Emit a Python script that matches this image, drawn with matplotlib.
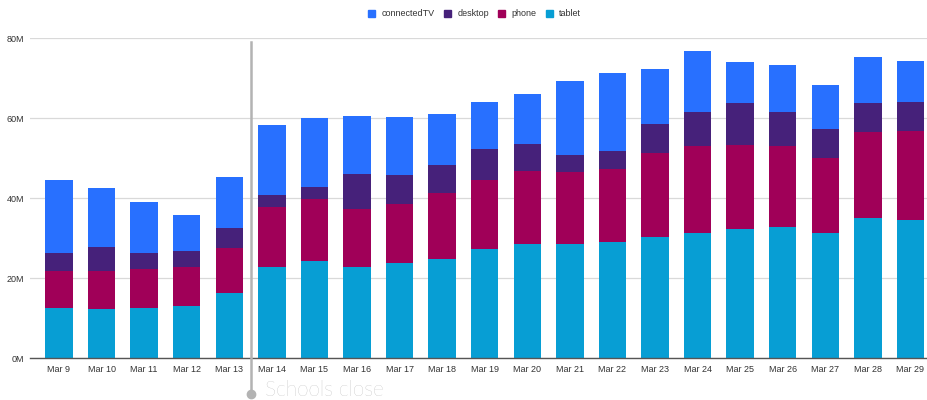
import numpy as np
import matplotlib.pyplot as plt
from matplotlib.patches import Patch

# dati (milioni)
days = ["Mar 9", "Mar 10", "Mar 11", "Mar 12", "Mar 13", "Mar 14", "Mar 15",
        "Mar 16", "Mar 17", "Mar 18", "Mar 19", "Mar 20", "Mar 21", "Mar 22",
        "Mar 23", "Mar 24", "Mar 25", "Mar 26", "Mar 27", "Mar 28", "Mar 29"]
tablet = [12.6, 12.3, 12.6, 13.0, 16.25, 22.8, 24.3, 22.9, 23.8, 24.9, 27.25,
          28.5, 28.5, 29.0, 30.25, 31.4, 32.3, 32.9, 31.4, 35.0, 34.6]
phone = [9.3, 9.6, 9.8, 9.8, 11.45, 14.95, 15.45, 14.4, 14.7, 16.35, 17.45,
         18.3, 18.1, 18.4, 21.0, 21.8, 21.0, 20.3, 18.7, 21.7, 22.3]
desktop = [4.4, 6.0, 3.9, 3.95, 4.9, 3.05, 3.15, 8.8, 7.3, 7.15, 7.7,
           6.7, 4.2, 4.35, 7.25, 8.4, 10.5, 8.4, 7.2, 7.1, 7.3]
connectedTV = [18.3, 14.8, 12.9, 9.05, 12.7, 17.45, 17.3, 14.4, 14.5, 12.6, 11.8,
               12.7, 18.5, 19.65, 13.9, 15.15, 10.4, 11.65, 11.1, 11.5, 10.1]
yticks = [0, 20, 40, 60, 80]

series = [("tablet", tablet, "#079ed4"),
          ("phone", phone, "#a00058"),
          ("desktop", desktop, "#46217a"),
          ("connectedTV", connectedTV, "#2870ff")]

plt.rcParams['font.family'] = ['Liberation Sans', 'DejaVu Sans']

fig = plt.figure(figsize=(9.27, 4), dpi=100)
ax = fig.add_axes([0.0324, 0.104, 0.9676, 0.8])

x = np.arange(len(days))
bottom = np.zeros(len(days))
for name, vals, col in series:
    ax.bar(x, vals, bottom=bottom, width=0.645, color=col, zorder=2)
    bottom += np.array(vals)

ax.set_xlim(-0.68, 20.39)
ax.set_ylim(0, 80)
ax.set_yticks(yticks)
ax.set_yticklabels([f"{v}M" for v in yticks])
ax.set_xticks(x)
ax.set_xticklabels(days)
ax.tick_params(axis='both', length=0, labelsize=6.5, colors="#333333")
ax.tick_params(axis='x', pad=5)
ax.tick_params(axis='y', pad=4)
ax.grid(axis='y', color="#d9d9d9", linewidth=0.9, zorder=0)
for s in ["top", "right", "left"]:
    ax.spines[s].set_visible(False)
ax.spines["bottom"].set_color("#555555")
ax.spines["bottom"].set_linewidth(1)
ax.spines["bottom"].set_zorder(3)

# linea chiusura scuole
ax.plot([4.5, 4.5], [79, -8.8], color="#b3b3b3", lw=1.8, clip_on=False, zorder=4)
ax.plot([4.5], [-8.8], "o", color="#b3b3b3", ms=6, clip_on=False, zorder=4)
ax.text(4.85, -8.0, "Schools close", fontsize=15, color="#a6a6a6",
        family=['Lato', 'DejaVu Sans'], fontweight='light', va='center', ha='left',
        clip_on=False)

handles = [Patch(color=c, label=n) for n, v, c in series[::-1]]
fig.legend(handles=handles, loc='center', bbox_to_anchor=(0.512, 0.965), ncol=4,
           frameon=False, fontsize=6.5, handlelength=0.8, handleheight=0.8,
           handletextpad=0.7, columnspacing=1.0, labelcolor="#333333")

fig.savefig("out.png", dpi=100)
